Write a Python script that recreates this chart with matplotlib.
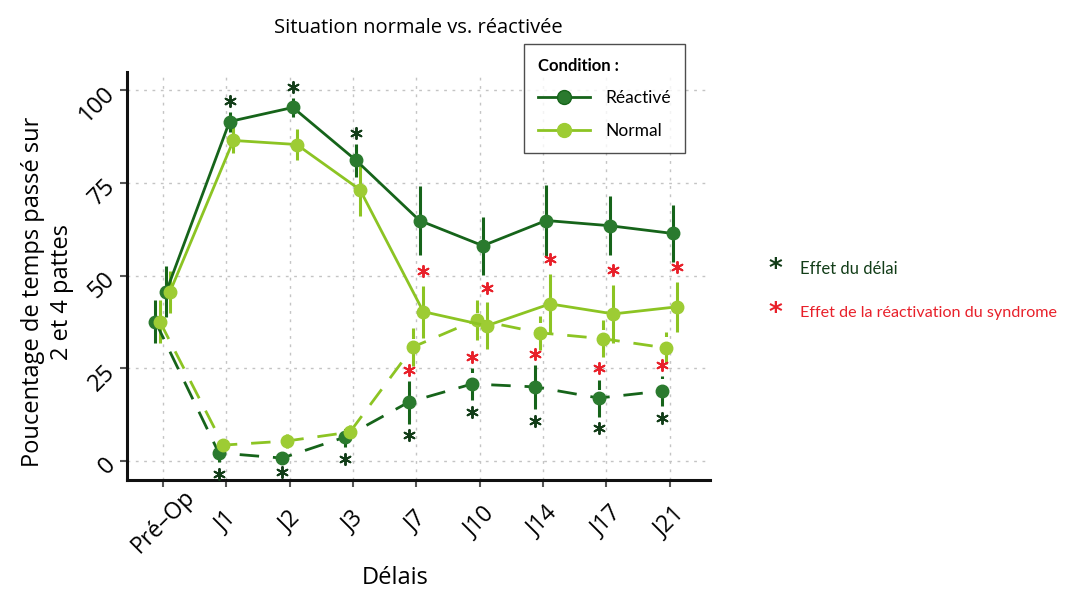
import numpy as np
import matplotlib.pyplot as plt
from matplotlib.lines import Line2D

# Data
delais = ["Pré–Op", "J1", "J2", "J3", "J7", "J10", "J14", "J17", "J21"]

# solid lines (upper curves)
react_sol = [45.7, 91.6, 95.4, 81.1, 64.9, 58.1, 64.9, 63.5, 61.4]
react_sol_err = [6.8, 2.7, 2.6, 4.5, 9.3, 7.8, 9.7, 8.0, 7.8]
norm_sol = [45.7, 86.5, 85.4, 73.2, 40.3, 36.5, 42.4, 39.7, 41.6]
norm_sol_err = [5.7, 3.5, 4.3, 7.0, 7.0, 6.3, 8.0, 7.8, 6.8]

# dashed lines (lower curves)
react_dash = [37.6, 2.2, 0.8, 6.5, 15.9, 20.8, 20.0, 17.0, 18.9]
react_dash_err = [5.8, 2.5, 0.6, 2.7, 5.8, 4.3, 6.0, 5.0, 4.0]
norm_dash = [37.6, 4.3, 5.4, 7.8, 30.8, 38.1, 34.6, 33.0, 30.5]
norm_dash_err = [5.8, 1.5, 2.0, 2.0, 5.2, 5.4, 4.6, 5.0, 4.2]

# significance marks (indices of delais)
delai_haut = [1, 2, 3]                    # above solid Réactivé
delai_bas = [1, 2, 3, 4, 5, 6, 7, 8]      # below dashed Réactivé
reac_haut = [4, 5, 6, 7, 8]               # above solid Normal
reac_bas = [4, 5, 6, 7, 8]                # above dashed Réactivé

dark_line = "#16641a"
dark_fill = "#2a7a2e"
light_line = "#8cc423"
light_fill = "#9dcc34"
star_dark = "#123d18"
star_red = "#e8202a"

main_font = "Open Sans"
narrow = "Lato"

fig = plt.figure(figsize=(10.67, 5.94), dpi=100)
ax = fig.add_axes([0.119, 0.192, 0.546, 0.687])

x = np.arange(len(delais))
dodge = {"rd": -0.12, "nd": -0.05, "rs": 0.05, "ns": 0.11}


def serie(xpos, y, err, line, fill, dashed):
    eb = ax.errorbar(xpos, y, yerr=err, color=line, lw=2.0, elinewidth=2.2,
                     capsize=0, marker="o", ms=9, mfc=fill, mec=fill, zorder=3)
    if dashed:
        eb[0].set_dashes([7, 5])
        for c in eb[2]:
            c.set_linestyle((0, (6, 3)))
    return eb


serie(x + dodge["rd"], react_dash, react_dash_err, dark_line, dark_fill, True)
serie(x + dodge["nd"], norm_dash, norm_dash_err, light_line, light_fill, True)
serie(x + dodge["rs"], react_sol, react_sol_err, dark_line, dark_fill, False)
serie(x + dodge["ns"], norm_sol, norm_sol_err, light_line, light_fill, False)

# asterisks
star = dict(marker=(6, 2, 0), s=65, linewidths=1.4, zorder=5)
i = np.array(delai_haut)
ax.scatter(i + dodge["rs"], np.array(react_sol)[i] + np.array(react_sol_err)[i] + 2.8,
           color=star_dark, **star)
i = np.array(delai_bas)
ax.scatter(i + dodge["rd"], np.array(react_dash)[i] - np.array(react_dash_err)[i] - 3.2,
           color=star_dark, **star)
i = np.array(reac_haut)
ax.scatter(i + dodge["ns"], np.array(norm_sol)[i] + np.array(norm_sol_err)[i] + 4.0,
           color=star_red, **star)
i = np.array(reac_bas)
ax.scatter(i + dodge["rd"], np.array(react_dash)[i] + np.array(react_dash_err)[i] + 3.0,
           color=star_red, **star)

ax.set_xlim(-0.57, 8.63)
ax.set_ylim(-5.1, 105)
ax.set_xticks(x)
ax.set_xticklabels(delais, rotation=45, ha="center", va="center",
                   fontsize=16.5, family=main_font)
ax.set_yticks([0, 25, 50, 75, 100])
ax.set_yticklabels(["0", "25", "50", "75", "100"], rotation=45, ha="right",
                   va="center", rotation_mode="anchor", fontsize=17,
                   family=main_font)
ax.tick_params(axis="both", color="#555555", length=5, width=1.5)
ax.tick_params(axis="x", pad=25)
ax.tick_params(axis="y", pad=6)
ax.grid(True, color="#c4c4c4", linestyle=(0, (2, 4)), lw=1)
ax.set_axisbelow(True)
for s in ["top", "right"]:
    ax.spines[s].set_visible(False)
for s in ["left", "bottom"]:
    ax.spines[s].set_linewidth(2.2)
    ax.spines[s].set_color("#111111")

ax.set_xlabel("Délais", fontsize=17, family=main_font, va="center")
ax.xaxis.set_label_coords(0.46, -0.240)
ax.set_ylabel("Poucentage de temps passé sur\n2 et 4 pattes", fontsize=17,
              family=main_font, va="center", linespacing=1.3)
ax.yaxis.set_label_coords(-0.136, 0.461)
ax.set_title("Situation normale vs. réactivée", fontsize=14.5, family=main_font,
             pad=28)

handles = [
    Line2D([], [], color=dark_line, lw=2, marker="o", ms=10, mfc=dark_fill, mec=dark_line),
    Line2D([], [], color=light_line, lw=2, marker="o", ms=10, mfc=light_fill, mec=light_fill),
]
leg = fig.legend(handles, ["Réactivé", "Normal"], title="Condition :",
                 loc="upper left", bbox_to_anchor=(0.491, 0.926),
                 prop={"family": narrow, "size": 12.5},
                 title_fontproperties={"family": narrow, "size": 12, "weight": "bold"},
                 frameon=True, fancybox=False, edgecolor="#222222",
                 borderpad=0.8, handlelength=3.0, handletextpad=0.9,
                 labelspacing=0.95, borderaxespad=0)
leg._legend_box.align = "left"
leg.get_frame().set_linewidth(1.0)

# legend of the asterisks, right of the panel
fig.text(0.727, 0.545, "*", color=star_dark, fontsize=19, family="DejaVu Sans",
         ha="center", va="center", weight="bold")
fig.text(0.750, 0.547, "Effet du délai", color=star_dark, fontsize=12,
         family=narrow, va="center")
fig.text(0.727, 0.471, "*", color=star_red, fontsize=19, family="DejaVu Sans",
         ha="center", va="center", weight="bold")
fig.text(0.750, 0.473, "Effet de la réactivation du syndrome", color=star_red,
         fontsize=11.6, family=narrow, va="center")

fig.savefig("out.png", dpi=100)
